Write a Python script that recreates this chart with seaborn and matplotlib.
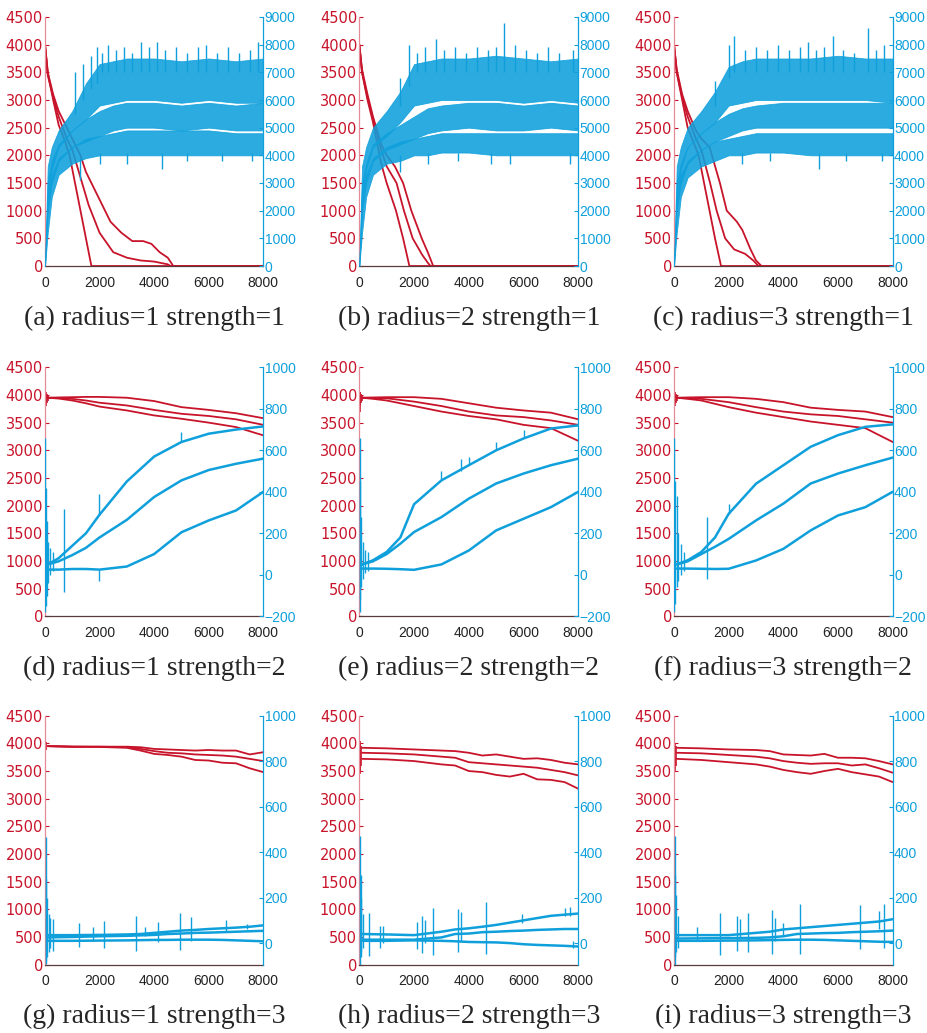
import numpy as np
import matplotlib
matplotlib.use('Agg')
import matplotlib.pyplot as plt
import seaborn as sns

RED = '#c8142a'
BLUE = '#0fa0dc'

# ---------------- row 1 (strength=1) ----------------
# red lines: each has its own x breakpoints (left axis, 0-4500)
a_red1_x = [0, 100, 300, 500, 700, 900, 1100, 1300, 1500, 1700, 8000]
a_red1_y = [4000, 3500, 3000, 2550, 2300, 2000, 1500, 1000, 500, 0, 0]
a_red2_x = [0, 100, 300, 500, 800, 1000, 1300, 1600, 2000, 2500, 3000, 3500, 4000, 4500, 4600, 8000]
a_red2_y = [4000, 3450, 3050, 2700, 2300, 2100, 1600, 1100, 600, 250, 150, 100, 80, 30, 0, 0]
a_red3_x = [0, 100, 300, 500, 800, 1000, 1300, 1500, 1800, 2000, 2400, 2800, 3200, 3600, 3900, 4200, 4500, 4700, 8000]
a_red3_y = [4000, 3500, 3100, 2800, 2500, 2300, 2000, 1700, 1400, 1200, 800, 600, 450, 450, 400, 250, 150, 0, 0]

b_red1_x = [0, 100, 300, 500, 800, 1000, 1340, 1600, 1830, 8000]
b_red1_y = [4000, 3500, 3000, 2600, 1850, 1500, 1000, 500, 0, 0]
b_red2_x = [0, 100, 300, 500, 800, 1000, 1360, 1630, 1950, 2300, 2500, 2600, 8000]
b_red2_y = [4000, 3500, 3050, 2650, 2100, 1800, 1500, 1000, 500, 200, 60, 0, 0]
b_red3_x = [0, 100, 300, 500, 800, 1000, 1300, 1600, 1900, 2280, 2500, 2700, 8000]
b_red3_y = [4000, 3550, 3100, 2700, 2200, 2000, 1800, 1500, 1000, 500, 250, 0, 0]

c_red1_x = [0, 100, 300, 500, 700, 900, 1100, 1300, 1500, 1720, 8000]
c_red1_y = [4000, 3500, 3000, 2500, 2250, 2000, 1500, 1000, 500, 0, 0]
c_red2_x = [0, 100, 300, 500, 800, 1000, 1320, 1560, 1870, 2200, 2600, 2900, 3090, 8000]
c_red2_y = [4000, 3500, 3050, 2700, 2300, 2100, 1500, 1000, 500, 300, 220, 100, 0, 0]
c_red3_x = [0, 100, 300, 500, 800, 1000, 1300, 1680, 1930, 2300, 2500, 2800, 3000, 3200, 8000]
c_red3_y = [4000, 3550, 3100, 2800, 2450, 2300, 2150, 1500, 1000, 800, 650, 300, 100, 0, 0]

# blue noisy series shown as low/high envelopes (right axis, 0-9000)
band_x = [0, 100, 250, 500, 1000, 1500, 2000, 2500, 3000, 4000, 5000, 6000, 7000, 8000]

a_up_lo = [0, 2500, 3500, 4300, 4900, 5300, 5800, 5900, 6000, 6000, 5900, 6000, 5900, 5900]
a_up_hi = [0, 3600, 4300, 4900, 5600, 6600, 7300, 7400, 7500, 7500, 7400, 7500, 7400, 7500]
a_mid_lo = [0, 2000, 3000, 3800, 4300, 4500, 4700, 4900, 5000, 5000, 4900, 5000, 4900, 4900]
a_mid_hi = [0, 3000, 3800, 4400, 4900, 5300, 5600, 5800, 5900, 5900, 5800, 5900, 5800, 5900]
a_lo_lo = [0, 1200, 2500, 3300, 3700, 3900, 4000, 4000, 4000, 4000, 4000, 4000, 4000, 4000]
a_lo_hi = [0, 2400, 3300, 3900, 4300, 4600, 4700, 4800, 4900, 4900, 4900, 4900, 4800, 4800]

b_up_lo = [0, 2500, 3500, 4300, 4700, 5200, 5800, 5900, 6000, 6000, 6000, 5900, 6000, 5900]
b_up_hi = [0, 3600, 4300, 5000, 5600, 6300, 7300, 7400, 7500, 7500, 7600, 7500, 7400, 7500]
b_mid_lo = [0, 2000, 3000, 3800, 4200, 4400, 4600, 4800, 4900, 5000, 4900, 4900, 5000, 4900]
b_mid_hi = [0, 3000, 3700, 4400, 4800, 5100, 5400, 5700, 5800, 5900, 5900, 5800, 5900, 5800]
b_lo_lo = [0, 1200, 2500, 3300, 3700, 3800, 4000, 4000, 4100, 4100, 4000, 4000, 4000, 4000]
b_lo_hi = [0, 2400, 3300, 3900, 4300, 4500, 4600, 4700, 4800, 4800, 4800, 4800, 4800, 4800]

c_up_lo = [0, 2500, 3500, 4300, 4800, 5200, 5800, 5900, 6000, 6000, 6000, 6000, 6000, 5900]
c_up_hi = [0, 3600, 4300, 5000, 5600, 6300, 7200, 7400, 7500, 7500, 7500, 7600, 7500, 7500]
c_mid_lo = [0, 2000, 3000, 3700, 4200, 4500, 4700, 4900, 5000, 5000, 5000, 5000, 5000, 5000]
c_mid_hi = [0, 3000, 3700, 4300, 4800, 5200, 5500, 5700, 5800, 5900, 5900, 5900, 5900, 5900]
c_lo_lo = [0, 1200, 2500, 3200, 3600, 3800, 4000, 4000, 4100, 4100, 4000, 4000, 4000, 4000]
c_lo_hi = [0, 2400, 3300, 3800, 4200, 4500, 4600, 4700, 4800, 4800, 4800, 4800, 4800, 4800]

# peaks sticking out of the blue bands: (x, from, to)
a_blue_spk = [(1100, 5500, 7000), (1400, 6000, 7300), (1700, 6400, 7600), (1900, 6600, 7900),
              (2100, 7000, 7700), (2300, 7000, 8000), (2600, 7000, 7800), (2900, 7000, 7900),
              (3200, 7000, 7700), (3500, 7000, 8100), (3800, 7000, 7900), (4100, 7000, 8100),
              (4400, 7000, 7800), (4800, 7000, 7900), (5200, 7000, 7700), (5600, 7000, 7900),
              (5900, 7000, 8000), (6300, 7000, 7700), (6700, 7000, 7900), (7100, 7000, 7700),
              (7500, 7000, 7800), (7800, 7000, 8100),
              (1300, 3100, 3900), (2000, 3700, 4100), (3000, 3700, 4100), (4300, 3500, 4100),
              (5200, 3800, 4100), (6500, 3800, 4100), (7600, 3800, 4100)]
b_blue_spk = [(1500, 5800, 6800), (1800, 6500, 8000), (2100, 7000, 7700), (2400, 7000, 7900),
              (2800, 7000, 8200), (3100, 7000, 7800), (3500, 7000, 7900), (3900, 7000, 7700),
              (4300, 7000, 7900), (4700, 7000, 7800), (5000, 7000, 7900), (5300, 7000, 8800),
              (5700, 7000, 8000), (6100, 7000, 7800), (6500, 7000, 7700), (6900, 7000, 7900),
              (7300, 7000, 7700), (7800, 7000, 7800),
              (1500, 3400, 4000), (2500, 3700, 4100), (3600, 3800, 4100), (4800, 3700, 4100),
              (5500, 3700, 4100), (7700, 3700, 4100)]
c_blue_spk = [(1500, 5800, 6700), (2000, 6800, 8000), (2200, 7000, 8300), (2600, 7000, 7800),
              (3000, 7000, 7900), (3400, 7000, 7800), (3800, 7000, 8000), (4200, 7000, 7800),
              (4600, 7000, 7900), (4900, 7000, 8100), (5200, 7000, 7800), (5500, 7000, 7900),
              (5800, 7000, 8300), (6200, 7000, 7800), (6600, 7000, 7700), (7100, 7000, 8600),
              (7400, 7000, 7800), (7700, 7000, 8000),
              (2500, 3700, 4100), (3500, 3800, 4100), (5300, 3500, 4100), (6300, 3800, 4100),
              (7600, 3800, 4100)]

# ---------------- row 2 (strength=2) ----------------
x_row2 = [100, 500, 1000, 1500, 2000, 3000, 4000, 5000, 6000, 7000, 8000]

d_red_top = [3950, 3955, 3960, 3965, 3965, 3950, 3890, 3780, 3730, 3670, 3580]
d_red_mid = [3950, 3945, 3930, 3900, 3860, 3810, 3730, 3660, 3620, 3560, 3460]
d_red_bot = [3950, 3935, 3900, 3850, 3790, 3720, 3630, 3570, 3500, 3420, 3270]
d_blue_up = [50, 80, 140, 200, 290, 450, 570, 640, 680, 700, 715]
d_blue_mid = [50, 65, 95, 130, 180, 265, 375, 455, 505, 535, 560]
d_blue_low = [25, 25, 28, 28, 25, 40, 100, 205, 262, 310, 400]

e_red_top = [3950, 3955, 3960, 3960, 3960, 3930, 3850, 3770, 3720, 3680, 3560]
e_red_mid = [3950, 3945, 3940, 3910, 3880, 3800, 3700, 3630, 3600, 3540, 3460]
e_red_bot = [3950, 3930, 3900, 3850, 3800, 3700, 3620, 3560, 3460, 3400, 3170]
e_blue_up = [50, 70, 110, 180, 340, 455, 528, 600, 657, 705, 720]
e_blue_mid = [50, 65, 100, 150, 206, 278, 367, 440, 488, 528, 560]
e_blue_low = [30, 30, 29, 27, 24, 50, 117, 214, 270, 326, 400]

f_red_top = [3950, 3955, 3960, 3960, 3960, 3930, 3870, 3770, 3730, 3700, 3600]
f_red_mid = [3950, 3940, 3930, 3900, 3870, 3780, 3700, 3650, 3620, 3560, 3500]
f_red_bot = [3950, 3930, 3900, 3840, 3780, 3680, 3600, 3520, 3460, 3400, 3150]
f_blue_up = [50, 70, 110, 180, 294, 439, 528, 617, 673, 713, 725]
f_blue_mid = [50, 65, 100, 135, 173, 262, 343, 440, 488, 528, 565]
f_blue_low = [30, 30, 29, 28, 29, 69, 125, 214, 286, 326, 400]

red_start_2 = [(15, 3700, 4050), (40, 3800, 4050), (70, 3850, 4020), (100, 3900, 4000)]
d_blue_spk = [(10, -180, 660), (35, -150, 420), (70, -100, 260), (120, -40, 160), (200, 0, 130),
              (300, 20, 110), (700, -84, 318), (1980, 290, 390), (1980, -28, 25), (5000, 640, 690)]
e_blue_spk = [(10, -180, 660), (40, -120, 450), (80, -60, 280), (130, -20, 160), (200, 10, 120),
              (300, 20, 110), (3000, 455, 500), (3700, 500, 560), (4000, 530, 570),
              (5000, 600, 640), (6000, 657, 700)]
f_blue_spk = [(10, -180, 660), (40, -140, 450), (100, -60, 380), (150, -30, 200), (250, 0, 150),
              (350, 20, 110), (1200, -20, 278), (2000, 294, 340)]

# ---------------- row 3 (strength=3) ----------------
x_row3 = [100, 1000, 2000, 3000, 3500, 4000, 4500, 5000, 5500, 6000, 6500, 7000, 7500, 8000]

g_red_top = [3950, 3940, 3940, 3940, 3930, 3900, 3890, 3880, 3870, 3880, 3870, 3870, 3800, 3840]
g_red_mid = [3950, 3940, 3940, 3930, 3900, 3860, 3830, 3820, 3800, 3790, 3780, 3760, 3720, 3680]
g_red_bot = [3950, 3940, 3935, 3920, 3870, 3810, 3790, 3760, 3700, 3690, 3650, 3640, 3550, 3480]
g_blue_up = [35, 35, 36, 38, 40, 45, 50, 55, 58, 62, 65, 68, 72, 78]
g_blue_mid = [25, 27, 30, 32, 34, 36, 40, 42, 45, 46, 48, 50, 52, 54]
g_blue_low = [10, 10, 11, 12, 13, 14, 14, 15, 15, 15, 14, 12, 10, 8]

h_red_top = [3920, 3910, 3890, 3870, 3860, 3830, 3780, 3800, 3760, 3720, 3730, 3700, 3650, 3620]
h_red_mid = [3830, 3820, 3800, 3760, 3740, 3660, 3640, 3620, 3600, 3580, 3560, 3520, 3480, 3420]
h_red_bot = [3720, 3710, 3680, 3620, 3600, 3500, 3480, 3430, 3400, 3450, 3350, 3340, 3300, 3180]
h_blue_up = [40, 38, 35, 50, 60, 65, 72, 80, 90, 100, 110, 120, 125, 130]
h_blue_mid = [15, 15, 15, 25, 40, 42, 48, 50, 53, 55, 58, 60, 62, 62]
h_blue_low = [10, 10, 12, 10, 8, 5, 4, 3, 0, -5, -8, -10, -12, -15]

i_red_top = [3920, 3910, 3890, 3880, 3860, 3800, 3790, 3780, 3810, 3740, 3740, 3730, 3680, 3620]
i_red_mid = [3830, 3820, 3790, 3760, 3730, 3680, 3650, 3630, 3640, 3640, 3600, 3620, 3550, 3470]
i_red_bot = [3720, 3700, 3660, 3620, 3580, 3520, 3480, 3450, 3500, 3540, 3480, 3440, 3400, 3300]
i_blue_up = [35, 35, 35, 45, 50, 60, 65, 70, 75, 80, 85, 90, 95, 105]
i_blue_mid = [20, 21, 22, 23, 25, 30, 40, 42, 44, 45, 48, 50, 52, 55]
i_blue_low = [10, 10, 11, 12, 13, 14, 15, 15, 14, 12, 10, 8, 6, 5]

g_red_start = [(15, 3850, 4050), (40, 3880, 4020)]
hi_red_start = [(15, 3450, 4050), (40, 3500, 4000), (70, 3600, 3950)]
g_blue_spk = [(20, -90, 466), (50, -80, 280), (80, -60, 200), (130, -40, 130), (200, -20, 110),
              (300, -34, 104), (1250, -19, 88), (1750, 10, 69), (2150, -22, 96), (3330, -34, 118),
              (3650, 30, 70), (4150, 5, 94), (4960, -31, 131), (5340, 10, 113), (6650, 50, 100),
              (7400, 60, 85)]
h_blue_spk = [(20, -95, 470), (50, -60, 300), (80, -40, 200), (120, -20, 130), (350, -56, 131),
              (750, -20, 76), (850, 0, 76), (2100, -26, 91), (2300, -45, 120), (2400, 0, 100),
              (2700, -51, 154), (3600, -40, 150), (3700, 10, 135), (4620, -46, 182),
              (5950, 90, 130), (7500, 120, 155), (7700, 120, 160), (7800, -20, 10)]
i_blue_spk = [(20, -95, 470), (50, -60, 300), (90, -40, 210), (150, -20, 120), (850, 10, 72),
              (1700, -51, 131), (2300, -34, 118), (2400, 20, 105), (2700, -40, 131),
              (3600, -48, 146), (3700, 10, 112), (4000, 30, 90), (4600, -48, 172),
              (6800, -27, 168), (7500, 60, 142), (7700, -20, 172)]

captions = ['(a) radius=1 strength=1', '(b) radius=2 strength=1', '(c) radius=3 strength=1',
            '(d) radius=1 strength=2', '(e) radius=2 strength=2', '(f) radius=3 strength=2',
            '(g) radius=1 strength=3', '(h) radius=2 strength=3', '(i) radius=3 strength=3']

# ---------------- build panel specs ----------------
row1 = [
    dict(red=[(a_red1_x, a_red1_y), (a_red2_x, a_red2_y), (a_red3_x, a_red3_y)],
         bands=[(a_lo_lo, a_lo_hi), (a_mid_lo, a_mid_hi), (a_up_lo, a_up_hi)], spk=a_blue_spk),
    dict(red=[(b_red1_x, b_red1_y), (b_red2_x, b_red2_y), (b_red3_x, b_red3_y)],
         bands=[(b_lo_lo, b_lo_hi), (b_mid_lo, b_mid_hi), (b_up_lo, b_up_hi)], spk=b_blue_spk),
    dict(red=[(c_red1_x, c_red1_y), (c_red2_x, c_red2_y), (c_red3_x, c_red3_y)],
         bands=[(c_lo_lo, c_lo_hi), (c_mid_lo, c_mid_hi), (c_up_lo, c_up_hi)], spk=c_blue_spk),
]
row2 = [
    dict(red=[d_red_top, d_red_mid, d_red_bot], blue=[d_blue_up, d_blue_mid, d_blue_low],
         rspk=red_start_2, spk=d_blue_spk),
    dict(red=[e_red_top, e_red_mid, e_red_bot], blue=[e_blue_up, e_blue_mid, e_blue_low],
         rspk=red_start_2, spk=e_blue_spk),
    dict(red=[f_red_top, f_red_mid, f_red_bot], blue=[f_blue_up, f_blue_mid, f_blue_low],
         rspk=red_start_2, spk=f_blue_spk),
]
row3 = [
    dict(red=[g_red_top, g_red_mid, g_red_bot], blue=[g_blue_up, g_blue_mid, g_blue_low],
         rspk=g_red_start, spk=g_blue_spk),
    dict(red=[h_red_top, h_red_mid, h_red_bot], blue=[h_blue_up, h_blue_mid, h_blue_low],
         rspk=hi_red_start, spk=h_blue_spk),
    dict(red=[i_red_top, i_red_mid, i_red_bot], blue=[i_blue_up, i_blue_mid, i_blue_low],
         rspk=hi_red_start, spk=i_blue_spk),
]

sns.set_style('white')
plt.rcParams['font.family'] = ['DejaVu Sans']

W, H = 927, 1033
fig = plt.figure(figsize=(W / 100, H / 100), dpi=100)

lefts = [45, 359.3, 674]
widths = [218.3, 219, 218.7]
tops = [17, 367.3, 715.7]
ph = 249
cap_y = [318, 668, 1016]
right_lims = [(0, 9000), (-200, 1000), (-95, 1000)]
right_ticks = [np.arange(0, 9001, 1000), np.arange(-200, 1001, 200), np.arange(0, 1001, 200)]

for r, row in enumerate([row1, row2, row3]):
    for c, p in enumerate(row):
        ax = fig.add_axes([lefts[c] / W, 1 - (tops[r] + ph) / H, widths[c] / W, ph / H])
        ax2 = ax.twinx()

        if r == 0:
            for xs, ys in p['red']:
                sns.lineplot(x=xs, y=ys, ax=ax, color=RED, linewidth=1.3,
                             estimator=None, sort=False, legend=False)
            for lo, hi in p['bands']:
                ax2.fill_between(band_x, lo, hi, color=BLUE, alpha=0.88, linewidth=0.6,
                                 edgecolor=BLUE)
        else:
            xg = x_row2 if r == 1 else x_row3
            for ys in p['red']:
                sns.lineplot(x=xg, y=ys, ax=ax, color=RED, linewidth=1.3,
                             estimator=None, sort=False, legend=False)
            for x0, y0, y1 in p['rspk']:
                ax.vlines(x0, y0, y1, color=RED, linewidth=1.2)
            for ys in p['blue']:
                sns.lineplot(x=xg, y=ys, ax=ax2, color=BLUE, linewidth=1.8,
                             estimator=None, sort=False, legend=False)
        for x0, y0, y1 in p['spk']:
            ax2.vlines(x0, y0, y1, color=BLUE, linewidth=1.0)

        ax.set_xlim(0, 8000)
        ax.set_ylim(0, 4500)
        ax.set_xticks([0, 2000, 4000, 6000, 8000])
        ax.set_yticks(np.arange(0, 4501, 500))
        ax2.set_ylim(*right_lims[r])
        ax2.set_yticks(right_ticks[r])
        ax.set_xlabel('')
        ax.set_ylabel('')
        ax2.set_ylabel('')

        ax.tick_params(axis='y', colors=RED, labelsize=10.5, direction='in', length=3, pad=1.5)
        ax.tick_params(axis='x', colors='#222222', labelsize=10, direction='in', length=3, pad=7)
        ax2.tick_params(axis='y', colors=BLUE, labelsize=10, direction='in', length=3, pad=1)
        for lbl in ax.get_xticklabels():
            lbl.set_fontfamily('Liberation Sans')
        for lbl in ax2.get_yticklabels():
            lbl.set_fontfamily('Liberation Sans')

        for s in ['top', 'right']:
            ax.spines[s].set_visible(False)
        for s in ['top', 'left', 'bottom']:
            ax2.spines[s].set_visible(False)
        ax.spines['left'].set_color('#e58a96')
        ax.spines['left'].set_linewidth(0.9)
        ax.spines['bottom'].set_color('#5a3a3a')
        ax.spines['bottom'].set_linewidth(0.9)
        ax2.spines['right'].set_color(BLUE)
        ax2.spines['right'].set_linewidth(0.9)

        fig.text((lefts[c] + widths[c] / 2) / W, 1 - cap_y[r] / H, captions[r * 3 + c],
                 ha='center', va='center', fontsize=20, family='Liberation Serif')

fig.savefig('out.png', dpi=100)
